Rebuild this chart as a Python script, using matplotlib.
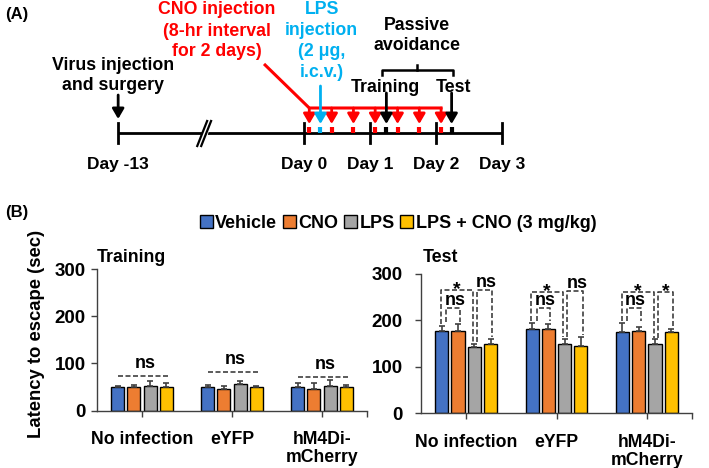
import numpy as np
import matplotlib
matplotlib.use('Agg')
import matplotlib.pyplot as plt
from matplotlib.patches import Patch

plt.rcParams['font.family'] = ['Liberation Sans', 'DejaVu Sans']
plt.rcParams['font.weight'] = 'bold'

# ---- data ----
groups = ['No infection', 'eYFP', 'hM4Di-\nmCherry']
treatments = ['Vehicle', 'CNO', 'LPS', 'LPS + CNO (3 mg/kg)']
colors = ['#4472C4', '#ED7D31', '#A5A5A5', '#FFC000']

training_mean = [[49, 49, 52, 49], [49, 45, 56, 49], [49, 45, 52, 49]]
training_err = [[2, 6, 10, 9], [6, 7, 6, 2], [9, 13, 13, 6]]
training_ns_y = [74, 81, 72]

test_mean = [[178, 178, 142, 149], [182, 182, 149, 146], [175, 178, 149, 175]]
test_err = [[11, 14, 7, 12], [13, 10, 12, 19], [20, 7, 10, 7]]
# brackets: (vehicle vs LPS), (vehicle vs CNO), (LPS vs LPS+CNO)
brk_veh_lps = [265, 261, 261]
brk_veh_cno = [227, 227, 227]
brk_lps_lc = [266, 263, 261]
lbl_veh_lps = ['*', '*', '*']
lbl_veh_cno = ['ns', 'ns', 'ns']
lbl_lps_lc = ['ns', 'ns', '*']

# timeline (days)
day_ticks = [-2.82, 0, 1, 2, 3]
day_labels = ['Day -13', 'Day 0', 'Day 1', 'Day 2', 'Day 3']
virus_day = -2.82
cno_days = [0.08, 0.42, 0.75, 1.08, 1.42, 1.75, 2.08]
lps_day = 0.25
training_day = 1.25
test_day = 2.24
break_day = -1.5

RED = '#FF0000'
CYAN = '#00B0F0'
DARK = '#404040'

fig = plt.figure(figsize=(7.09, 4.68), dpi=100)

# ---------------- panel A ----------------
W, H = 709, 468
axA = fig.add_axes([0, 1 - 180 / H, 1, 180 / H])
pxd = 65.9
axA.set_xlim(-304 / pxd, (W - 304) / pxd)
axA.set_ylim(180, 0)
axA.axis('off')

base = 133
axA.plot([day_ticks[0], day_ticks[-1]], [base, base], color='k', lw=2, solid_capstyle='butt')
for d in day_ticks:
    axA.plot([d, d], [123, 143], color='k', lw=2)
for d, lab in zip(day_ticks, day_labels):
    axA.text(d, 169.5, lab, ha='center', va='baseline', fontsize=12.5)

# break mark
bx = break_day
axA.fill([bx - 0.09, bx - 0.02, bx + 0.09, bx + 0.02], [146, 146, 121, 121], color='white', zorder=3)
for off in (-0.03, 0.03):
    axA.plot([bx - 0.09 + off, bx + 0.06 + off], [146, 121], color='k', lw=1.6, zorder=4)


def arrow(x, y0, y1, c):
    axA.annotate('', xy=(x, y1), xytext=(x, y0),
                 arrowprops=dict(arrowstyle='-|>,head_width=0.35,head_length=0.6',
                                 color=c, lw=2, shrinkA=0, shrinkB=0))


def mark(x, c):
    axA.plot([x, x], [126.5, 133], color=c, lw=3, solid_capstyle='butt')


# CNO
axA.plot([-0.59, cno_days[0], cno_days[-1]], [65, 108, 108], color=RED, lw=2.2)
for d in cno_days:
    arrow(d, 108, 124, RED)
    mark(d, RED)
arrow(lps_day, 86, 124, CYAN)
mark(lps_day, CYAN)
for d in (training_day, test_day):
    arrow(d, 93, 124, 'k')
    mark(d, 'k')
arrow(virus_day, 95, 119, 'k')

# brace for passive avoidance
b0, b1, bm = 1.18, 2.26, 1.72
axA.plot([b0, b0, b1, b1], [75, 70, 70, 75], color='k', lw=1.8)
axA.plot([bm, bm], [70, 65], color='k', lw=1.8)


def lines(x, y0, txt, c='k', step=21):
    for i, t in enumerate(txt):
        axA.text(x, y0 + i * step, t, ha='center', va='baseline', fontsize=12.8, color=c)


lines(-1.32, 14.5, ['CNO injection', '(8-hr interval', 'for 2 days)'], RED)
lines(0.27, 14, ['LPS', 'injection', '(2 μg,', 'i.c.v.)'], CYAN)
lines(-2.9, 69.5, ['Virus injection', 'and surgery'])
lines(1.72, 29.5, ['Passive', 'avoidance'], step=20)
lines(1.23, 91.5, ['Training'])
lines(2.27, 91.5, ['Test'])
fig.text(5 / W, 1 - 15 / H, '(A)', ha='left', va='center', fontsize=12)

# ---------------- panel B ----------------
fig.text(5 / W, 1 - 213 / H, '(B)', ha='left', va='center', fontsize=12)
fig.text(37 / W, 1 - 334 / H, 'Latency to escape (sec)', rotation=90,
         ha='center', va='center', fontsize=13.3)

handles = [Patch(facecolor=c, edgecolor='k', lw=1) for c in colors]
fig.legend(handles, treatments, loc='center', bbox_to_anchor=(398 / W, 1 - 223 / H),
           ncol=4, frameon=False, fontsize=13, handlelength=0.72, handleheight=0.72,
           handletextpad=0.15, columnspacing=0.3, borderaxespad=0)

axT = fig.add_axes([97 / W, (H - 410.5) / H, 270 / W, 141.5 / H])
axS = fig.add_axes([421 / W, (H - 413.3) / H, 271 / W, 139.3 / H])

offsets = np.array([-0.27, -0.09, 0.09, 0.27])
bw = 0.145
x = np.arange(len(groups))


def draw_bars(ax, means, errs, ylpad):
    means = np.array(means)
    errs = np.array(errs)
    for j in range(len(treatments)):
        ax.bar(x + offsets[j], means[:, j], bw, color=colors[j], edgecolor='k', lw=1,
               yerr=[np.zeros(len(groups)), errs[:, j]], capsize=2.5, zorder=2,
               error_kw=dict(ecolor=DARK, elinewidth=1.2, capthick=1.2))
    ax.set_xlim(-0.5, 2.5)
    ax.set_ylim(0, 300)
    ax.set_yticks([0, 100, 200, 300])
    ax.set_xticks(x)
    ax.set_xticklabels(groups, fontsize=12.7, linespacing=1.05)
    ax.set_xticks([2.5], minor=True)
    ax.tick_params(axis='y', labelsize=13.5, length=4, width=1, color=DARK, pad=ylpad)
    ax.tick_params(axis='x', which='both', length=4, width=1, color=DARK, pad=11)
    for s in ('top', 'right'):
        ax.spines[s].set_visible(False)
    for s in ('left', 'bottom'):
        ax.spines[s].set_color(DARK)
        ax.spines[s].set_linewidth(1)
    ax.patch.set_alpha(0)


draw_bars(axT, training_mean, training_err, 4)
draw_bars(axS, test_mean, test_err, 9)

fig.text(97 / W, 1 - 257 / H, 'Training', ha='left', va='center', fontsize=12.8)
fig.text(423 / W, 1 - 257 / H, 'Test', ha='left', va='center', fontsize=12.8)

dash = dict(color=DARK, lw=1.2, ls=(0, (3, 1.5)), zorder=3)

for g in range(len(groups)):
    y = training_ns_y[g]
    axT.plot([g - 0.27, g + 0.31], [y, y], **dash)
    axT.text(g + 0.04, y + 17, 'ns', ha='center', va='baseline', fontsize=13)

tm = np.array(test_mean) + np.array(test_err)


def bracket(ax, x1, x2, h, e1, e2, lab):
    ax.plot([x1, x1, x2, x2], [e1 + 4, h, h, e2 + 4], **dash)
    if lab == '*':
        ax.text((x1 + x2) / 2, h - 9, lab, ha='center', va='baseline', fontsize=14)
    else:
        ax.text((x1 + x2) / 2 + 0.02, h + 6, lab, ha='center', va='baseline', fontsize=13)


for g in range(len(groups)):
    t = tm[g]
    bracket(axS, g - 0.28, g + 0.075, brk_veh_lps[g], t[0], t[2], lbl_veh_lps[g])
    bracket(axS, g - 0.22, g - 0.07, brk_veh_cno[g], max(t[0], t[1]), max(t[0], t[1]), lbl_veh_cno[g])
    bracket(axS, g + 0.12, g + 0.29, brk_lps_lc[g], t[2], t[3], lbl_lps_lc[g])

fig.savefig('out.png', dpi=100)
